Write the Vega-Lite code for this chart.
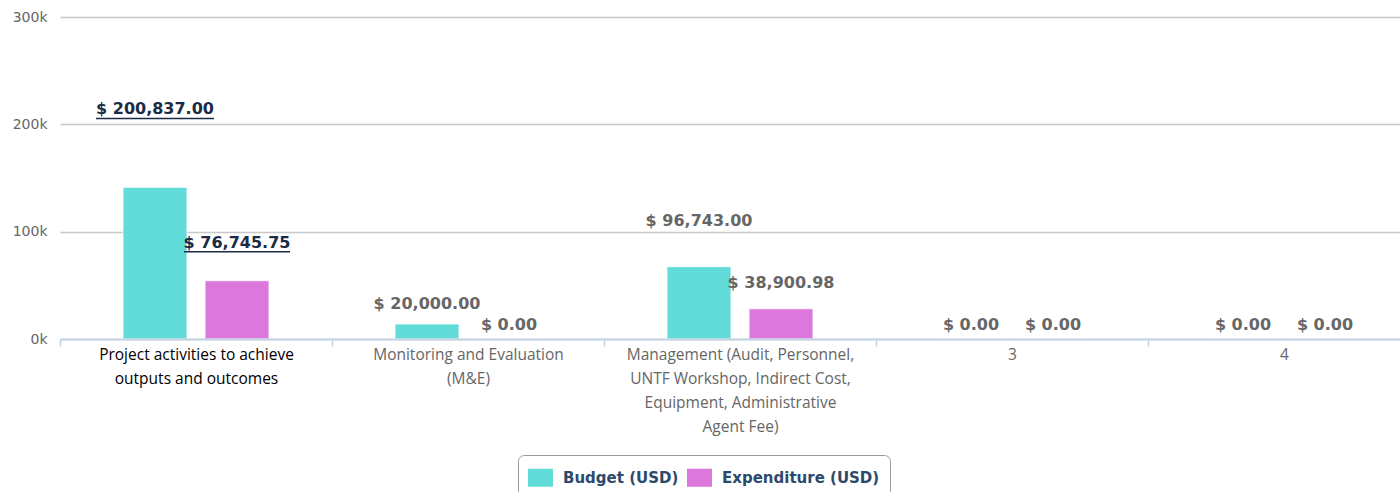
{
  "$schema": "https://vega.github.io/schema/vega-lite/v6.json",
  "autosize": "none",
  "padding": {"left": 60, "top": 17, "right": 0, "bottom": 153},
  "width": 1340,
  "height": 322,
  "background": "#ffffff",
  "config": {"view": {"stroke": null}},
  "data": {
    "values": [
      {"category": "Project activities to achieve outputs and outcomes", "series": "Budget (USD)", "bar": 141300, "amount": 200837.00, "label": "$ 200,837.00"},
      {"category": "Project activities to achieve outputs and outcomes", "series": "Expenditure (USD)", "bar": 54300, "amount": 76745.75, "label": "$ 76,745.75"},
      {"category": "Monitoring and Evaluation (M&E)", "series": "Budget (USD)", "bar": 14000, "amount": 20000.00, "label": "$ 20,000.00"},
      {"category": "Monitoring and Evaluation (M&E)", "series": "Expenditure (USD)", "bar": 0, "amount": 0, "label": "$ 0.00"},
      {"category": "Management (Audit, Personnel, UNTF Workshop, Indirect Cost, Equipment, Administrative Agent Fee)", "series": "Budget (USD)", "bar": 67400, "amount": 96743.00, "label": "$ 96,743.00"},
      {"category": "Management (Audit, Personnel, UNTF Workshop, Indirect Cost, Equipment, Administrative Agent Fee)", "series": "Expenditure (USD)", "bar": 28200, "amount": 38900.98, "label": "$ 38,900.98"},
      {"category": "3", "series": "Budget (USD)", "bar": 0, "amount": 0, "label": "$ 0.00"},
      {"category": "3", "series": "Expenditure (USD)", "bar": 0, "amount": 0, "label": "$ 0.00"},
      {"category": "4", "series": "Budget (USD)", "bar": 0, "amount": 0, "label": "$ 0.00"},
      {"category": "4", "series": "Expenditure (USD)", "bar": 0, "amount": 0, "label": "$ 0.00"}
    ]
  },
  "encoding": {
    "x": {
      "field": "category", "type": "nominal", "sort": null,
      "scale": {"range": [0, 1360], "paddingInner": 0, "paddingOuter": 0},
      "axis": {
        "title": null, "labelAngle": 0, "zindex": 1, "orient": "bottom",
        "domainColor": "#c3d3e6", "domainWidth": 2,
        "ticks": true, "tickBand": "extent", "tickColor": "#c3d3e6", "tickSize": 7, "tickWidth": 1.5,
        "labelFont": "Open Sans", "labelFontSize": 15.5, "labelLineHeight": 24, "labelLimit": 400, "labelPadding": 1,
        "labelBaseline": "top",
        "labelColor": {"condition": {"test": "datum.value == 'Project activities to achieve outputs and outcomes'", "value": "#000000"}, "value": "#666666"},
        "labelExpr": "datum.value == 'Project activities to achieve outputs and outcomes' ? ['Project activities to achieve', 'outputs and outcomes'] : datum.value == 'Monitoring and Evaluation (M&E)' ? ['Monitoring and Evaluation', '(M&E)'] : datum.value == 'Management (Audit, Personnel, UNTF Workshop, Indirect Cost, Equipment, Administrative Agent Fee)' ? ['Management (Audit, Personnel,', 'UNTF Workshop, Indirect Cost,', 'Equipment, Administrative', 'Agent Fee)'] : datum.label"
      }
    },
    "xOffset": {
      "field": "series", "type": "nominal", "sort": ["Budget (USD)", "Expenditure (USD)"],
      "scale": {"paddingInner": 0.2195, "paddingOuter": 0.768}
    }
  },
  "layer": [
    {
      "mark": {"type": "bar", "stroke": "#ffffff", "strokeWidth": 1, "strokeOpacity": 0.85},
      "encoding": {
        "y": {
          "field": "bar", "type": "quantitative",
          "scale": {"domain": [0, 300000], "nice": false},
          "axis": {
            "title": null, "values": [0, 100000, 200000, 300000],
            "labelExpr": "(datum.value / 1000) + 'k'",
            "grid": true, "gridColor": "#c8c8c8", "gridWidth": 1.5,
            "domain": false, "ticks": false,
            "labelFont": "DejaVu Sans", "labelFontSize": 14, "labelColor": "#666666", "labelPadding": 13
          }
        },
        "color": {
          "field": "series", "type": "nominal",
          "scale": {"domain": ["Budget (USD)", "Expenditure (USD)"], "range": ["#62dcd8", "#dc78dc"]},
          "legend": {
            "title": null, "orient": "none", "legendX": 458, "legendY": 438, "direction": "horizontal",
            "strokeColor": "#999999", "cornerRadius": 6, "padding": 10,
            "symbolType": "M-1,-0.72H1V0.72H-1Z", "symbolSize": 625, "symbolStrokeWidth": 0, "symbolOpacity": 1,
            "labelFont": "DejaVu Sans", "labelFontWeight": "bold", "labelFontSize": 15, "labelColor": "#2c4a6c",
            "labelOffset": 10, "columnPadding": 8
          }
        }
      }
    },
    {
      "transform": [{"filter": "datum.category != 'Project activities to achieve outputs and outcomes'"}],
      "mark": {"type": "text", "baseline": "middle", "align": "center", "dy": -14, "font": "DejaVu Sans", "fontWeight": "bold", "fontSize": 16, "fill": "#666666"},
      "encoding": {
        "y": {"field": "amount", "type": "quantitative"},
        "text": {"field": "label"}
      }
    },
    {
      "transform": [{"filter": "datum.category == 'Project activities to achieve outputs and outcomes'"}],
      "mark": {"type": "text", "baseline": "middle", "align": "center", "dy": -14, "font": "DejaVu Sans", "fontWeight": "bold", "fontSize": 16, "fill": "#1b2b45"},
      "encoding": {
        "y": {"field": "amount", "type": "quantitative"},
        "text": {"field": "label"}
      }
    },
    {
      "transform": [{"filter": "datum.category == 'Project activities to achieve outputs and outcomes' && datum.series == 'Budget (USD)'"}],
      "mark": {"type": "tick", "orient": "horizontal", "thickness": 1.5, "size": 118, "color": "#1b2b45", "yOffset": -5, "opacity": 1},
      "encoding": {
        "y": {"field": "amount", "type": "quantitative"}
      }
    },
    {
      "transform": [{"filter": "datum.category == 'Project activities to achieve outputs and outcomes' && datum.series == 'Expenditure (USD)'"}],
      "mark": {"type": "tick", "orient": "horizontal", "thickness": 1.5, "size": 106, "color": "#1b2b45", "yOffset": -5, "opacity": 1},
      "encoding": {
        "y": {"field": "amount", "type": "quantitative"}
      }
    }
  ]
}
